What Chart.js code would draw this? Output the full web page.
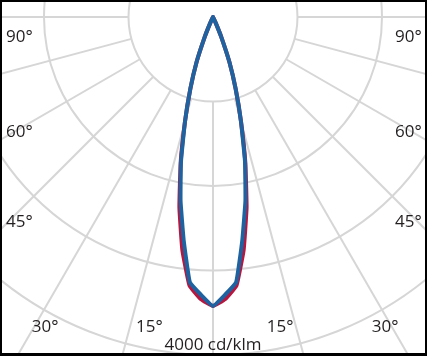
<!DOCTYPE html>
<html><head><meta charset="utf-8">
<script src="https://cdn.jsdelivr.net/npm/chart.js@4"></script>
<style>
html,body{margin:0;padding:0;background:#000;}
#wrap{position:absolute;left:0;top:0;width:427px;height:356px;background:#000;}
#box{position:absolute;left:2px;top:2px;width:423px;height:351px;background:#fff;}
canvas{display:block;}
</style></head><body>
<div id="wrap"><div id="box"><canvas id="c" width="423" height="351"></canvas></div></div>
<script>
// Polar angle (degrees from nadir) and luminous intensity (cd/klm)
const angles         = [0,    2.5,  5,    7.5,  10,   12.5, 15,   17.5, 20,  22.5, 25, 27.5, 30, 45, 60, 75, 90];
const redIntensity   = [3420, 3340, 3190, 2780, 2290, 1770, 1280, 890,  570, 260,  70, 0,    0,  0,  0,  0,  0];
const blueIntensity  = [3420, 3290, 3150, 2660, 2210, 1750, 1280, 890,  570, 260,  70, 0,    0,  0,  0,  0,  0];
const ringValues     = [1000, 2000, 3000, 4000];
const spokeAngles    = [-90,-75,-60,-45,-30,-15,0,15,30,45,60,75,90];
const sideLabels     = ['90°','60°','45°'];
const bottomLabels   = ['30°','15°','15°','30°'];
const scaleLabel     = '4000 cd/klm';

function toCurve(values){
  const pts = [];
  for (let i = angles.length - 1; i >= 0; i--) {
    const t = -angles[i] * Math.PI / 180;
    pts.push({x: values[i] * Math.sin(t), y: -values[i] * Math.cos(t)});
  }
  for (let i = 1; i < angles.length; i++) {
    const t = angles[i] * Math.PI / 180;
    pts.push({x: values[i] * Math.sin(t), y: -values[i] * Math.cos(t)});
  }
  return pts;
}

const gridColor = '#d6d6d6';
const textColor = '#231f20';
const FONT = '17px "Open Sans"';

const polarGrid = {
  id: 'polarGrid',
  beforeDatasetsDraw(chart){
    const {ctx, chartArea: a, scales: {x, y}} = chart;
    const cx = x.getPixelForValue(0), cy = y.getPixelForValue(0);
    ctx.save();
    ctx.beginPath(); ctx.rect(a.left, a.top, a.right - a.left, a.bottom - a.top); ctx.clip();
    ctx.strokeStyle = gridColor; ctx.lineWidth = 2;
    ringValues.forEach(v => {
      const rx = x.getPixelForValue(v) - cx;
      const ry = y.getPixelForValue(-v) - cy;
      ctx.beginPath(); ctx.ellipse(cx, cy, rx, ry, 0, 0, Math.PI * 2); ctx.stroke();
    });
    const r0 = ringValues[0], r1 = 8000;
    spokeAngles.forEach(d => {
      const t = d * Math.PI / 180;
      ctx.beginPath();
      ctx.moveTo(x.getPixelForValue(r0 * Math.sin(t)), y.getPixelForValue(-r0 * Math.cos(t)));
      ctx.lineTo(x.getPixelForValue(r1 * Math.sin(t)), y.getPixelForValue(-r1 * Math.cos(t)));
      ctx.stroke();
    });
    ctx.restore();
  },
  afterDraw(chart){
    const {ctx} = chart;
    ctx.save();
    ctx.fillStyle = textColor; ctx.font = FONT; ctx.textBaseline = 'alphabetic';
    const sideY = [39.7, 134.7, 225.3];
    sideLabels.forEach((s, i) => {
      ctx.textAlign = 'left'; ctx.fillText(s, 4, sideY[i]);
      ctx.textAlign = 'right'; ctx.fillText(s, 419.7, sideY[i]);
    });
    const bx = [29.7, 134, 264.7, 369.7];
    ctx.textAlign = 'left';
    bottomLabels.forEach((s, i) => ctx.fillText(s, bx[i], 329.5));
    ctx.textAlign = 'center';
    ctx.fillText(scaleLabel, 211, 348);
    ctx.restore();
  }
};

new Chart(document.getElementById('c'), {
  type: 'scatter',
  data: {
    datasets: [
      {label: 'C90-C270', data: toCurve(blueIntensity), showLine: true, borderColor: '#1f62a0', borderWidth: 4, pointRadius: 0, tension: 0.1, borderJoinStyle: 'round', borderCapStyle: 'round', fill: false},
      {label: 'C0-C180', data: toCurve(redIntensity), showLine: true, borderColor: '#b5173f', borderWidth: 4, pointRadius: 0, tension: 0.1, borderJoinStyle: 'round', borderCapStyle: 'round', fill: false}
    ]
  },
  options: {
    responsive: false, animation: false, devicePixelRatio: 1,
    layout: {padding: 0},
    plugins: {legend: {display: false}, tooltip: {enabled: false}},
    scales: {
      x: {type: 'linear', min: -2497, max: 2509, display: false},
      y: {type: 'linear', min: -3976, max: 177.5, display: false}
    }
  },
  plugins: [polarGrid]
});
</script>
</body></html>
